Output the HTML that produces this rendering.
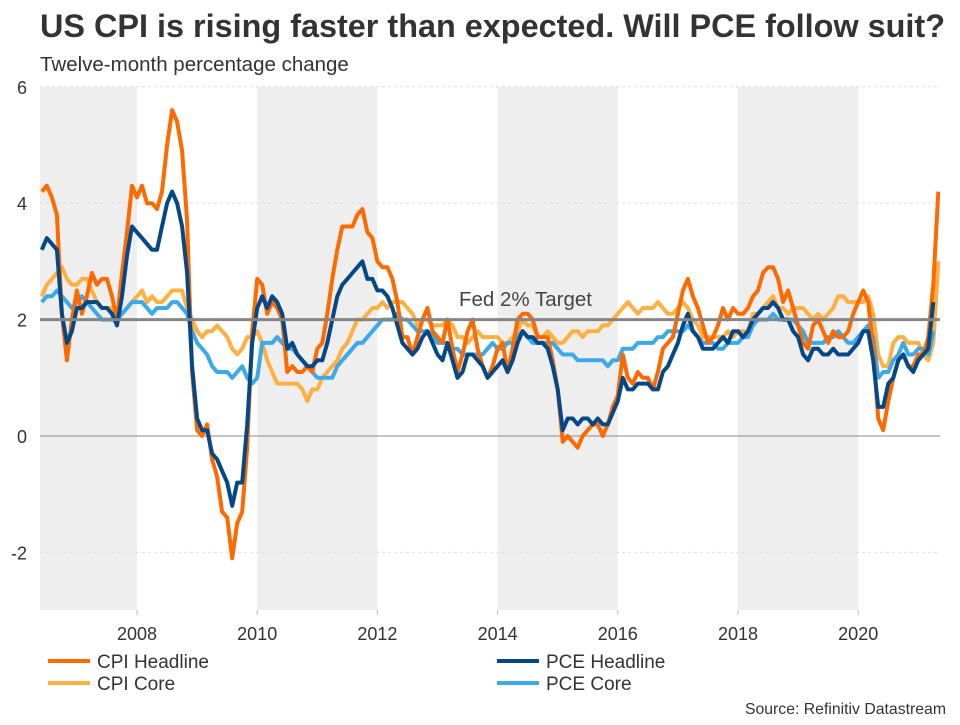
<!DOCTYPE html>
<html><head><meta charset="utf-8"><style>
body{margin:0;background:#fff;width:960px;height:720px;overflow:hidden;font-family:"Liberation Sans",sans-serif;}
</style></head><body>
<svg id="chart" width="960" height="720" xmlns="http://www.w3.org/2000/svg" font-family="Liberation Sans, sans-serif">
<text x="40" y="37" font-size="32.4" font-weight="bold" fill="#333">US CPI is rising faster than expected. Will PCE follow suit?</text>
<text x="40" y="71" font-size="20.5" fill="#333">Twelve-month percentage change</text>
<g id="bands"></g><g id="grid"></g><g id="series"></g><g id="axes"></g>
<text x="459" y="306" font-size="20.5" fill="#444">Fed 2% Target</text>
<g>
<line x1="48" y1="661" x2="90" y2="661" stroke="#ff6a00" stroke-width="4"/><text x="97" y="668" font-size="19" fill="#333">CPI Headline</text>
<line x1="48" y1="683" x2="90" y2="683" stroke="#ffb040" stroke-width="4"/><text x="97" y="690" font-size="19" fill="#333">CPI Core</text>
<line x1="497" y1="661" x2="539" y2="661" stroke="#054887" stroke-width="4"/><text x="546" y="668" font-size="19" fill="#333">PCE Headline</text>
<line x1="497" y1="683" x2="539" y2="683" stroke="#3ca9ea" stroke-width="4"/><text x="546" y="690" font-size="19" fill="#333">PCE Core</text>
</g>
<text x="946" y="714" font-size="15.8" fill="#333" text-anchor="end">Source: Refinitiv Datastream</text>
</svg>
<script>
const startYear = 2006, startMonth = 5;
const cpiHeadline = [4.2,4.3,4.1,3.8,2.1,1.3,2.0,2.5,
2.1,2.4,2.8,2.6,2.7,2.7,2.4,2.0,2.8,3.5,4.3,4.1,
4.3,4.0,4.0,3.9,4.2,5.0,5.6,5.4,4.9,3.7,1.1,0.1,
0.0,0.2,-0.4,-0.7,-1.3,-1.4,-2.1,-1.5,-1.3,-0.2,1.8,2.7,
2.6,2.1,2.3,2.2,2.0,1.1,1.2,1.1,1.1,1.2,1.1,1.5,
1.6,2.1,2.7,3.2,3.6,3.6,3.6,3.8,3.9,3.5,3.4,3.0,
2.9,2.9,2.7,2.3,1.7,1.7,1.4,1.7,2.0,2.2,1.8,1.7,
1.6,2.0,1.5,1.1,1.4,1.8,2.0,1.5,1.2,1.0,1.2,1.5,
1.6,1.1,1.5,2.0,2.1,2.1,2.0,1.7,1.7,1.7,1.3,0.8,
-0.1,0.0,-0.1,-0.2,0.0,0.1,0.2,0.2,0.0,0.2,0.5,0.7,
1.4,1.0,0.9,1.1,1.0,1.0,0.8,1.1,1.5,1.6,1.7,2.1,
2.5,2.7,2.4,2.2,1.9,1.6,1.7,1.9,2.2,2.0,2.2,2.1,
2.1,2.2,2.4,2.5,2.8,2.9,2.9,2.7,2.3,2.5,2.2,1.9,
1.6,1.5,1.9,2.0,1.8,1.6,1.8,1.7,1.7,1.8,2.1,2.3,
2.5,2.3,1.5,0.3,0.1,0.6,1.0,1.3,1.4,1.2,1.2,1.4,
1.4,1.7,2.6,4.2];
const cpiCore = [2.4,2.6,2.7,2.8,2.9,2.7,2.6,2.6,
2.7,2.7,2.5,2.3,2.2,2.2,2.2,2.1,2.1,2.2,2.3,2.4,
2.5,2.3,2.4,2.3,2.3,2.4,2.5,2.5,2.5,2.2,2.0,1.8,
1.7,1.8,1.8,1.9,1.8,1.7,1.5,1.4,1.5,1.7,1.7,1.8,
1.6,1.3,1.1,0.9,0.9,0.9,0.9,0.9,0.8,0.6,0.8,0.8,
1.0,1.1,1.2,1.3,1.5,1.6,1.8,2.0,2.0,2.1,2.2,2.2,
2.3,2.2,2.3,2.3,2.3,2.2,2.1,1.9,2.0,2.0,1.9,1.9,
1.9,2.0,1.9,1.7,1.7,1.6,1.7,1.8,1.7,1.7,1.7,1.7,
1.6,1.6,1.7,1.8,2.0,1.9,1.9,1.7,1.7,1.8,1.7,1.6,
1.6,1.7,1.8,1.8,1.7,1.8,1.8,1.8,1.9,1.9,2.0,2.1,
2.2,2.3,2.2,2.1,2.2,2.2,2.2,2.3,2.2,2.1,2.1,2.2,
2.3,2.2,2.0,1.9,1.7,1.7,1.7,1.7,1.7,1.8,1.7,1.8,
1.8,1.8,2.1,2.1,2.2,2.3,2.4,2.2,2.2,2.1,2.2,2.2,
2.2,2.1,2.0,2.1,2.0,2.1,2.2,2.4,2.4,2.3,2.3,2.3,
2.3,2.4,2.1,1.4,1.2,1.2,1.6,1.7,1.7,1.6,1.6,1.6,
1.4,1.3,1.6,3.0];
const pceHeadline = [3.2,3.4,3.3,3.2,2.1,1.6,1.8,2.2,
2.2,2.3,2.3,2.3,2.2,2.2,2.1,1.9,2.4,3.1,3.6,3.5,
3.4,3.3,3.2,3.2,3.6,4.0,4.2,4.0,3.6,2.8,1.2,0.3,
0.1,0.1,-0.3,-0.4,-0.6,-0.8,-1.2,-0.8,-0.8,0.2,1.6,2.2,
2.4,2.2,2.4,2.3,2.1,1.5,1.6,1.4,1.3,1.2,1.2,1.3,
1.3,1.6,2.0,2.4,2.6,2.7,2.8,2.9,3.0,2.7,2.7,2.5,
2.5,2.4,2.2,1.9,1.6,1.5,1.4,1.5,1.7,1.8,1.6,1.4,
1.3,1.6,1.3,1.0,1.1,1.4,1.4,1.3,1.2,1.0,1.1,1.2,
1.3,1.1,1.3,1.6,1.8,1.7,1.7,1.6,1.6,1.5,1.2,0.8,
0.1,0.3,0.3,0.2,0.3,0.3,0.2,0.3,0.2,0.2,0.4,0.6,
1.0,0.8,0.8,0.9,0.9,0.9,0.8,0.8,1.1,1.2,1.4,1.6,
1.9,2.1,1.8,1.7,1.5,1.5,1.5,1.6,1.7,1.6,1.8,1.8,
1.7,1.8,2.0,2.1,2.2,2.2,2.3,2.2,2.0,2.0,1.8,1.7,
1.4,1.3,1.5,1.5,1.4,1.4,1.5,1.4,1.4,1.4,1.5,1.6,
1.8,1.8,1.3,0.5,0.5,0.9,1.0,1.3,1.4,1.2,1.1,1.3,
1.4,1.5,2.3];
const pceCore = [2.3,2.4,2.4,2.5,2.4,2.3,2.2,2.3,
2.4,2.3,2.2,2.1,2.0,2.0,2.0,2.0,2.1,2.2,2.3,2.3,
2.3,2.2,2.1,2.2,2.2,2.2,2.3,2.3,2.2,2.1,1.8,1.6,
1.5,1.4,1.2,1.1,1.1,1.1,1.0,1.1,1.2,1.0,0.9,1.0,
1.6,1.6,1.6,1.7,1.6,1.5,1.5,1.4,1.3,1.2,1.1,1.0,
1.0,1.0,1.0,1.2,1.3,1.4,1.5,1.6,1.6,1.7,1.8,1.9,
2.0,2.0,2.0,2.1,2.0,2.0,1.9,1.8,1.8,1.8,1.7,1.6,
1.6,1.6,1.5,1.5,1.4,1.4,1.4,1.4,1.4,1.5,1.6,1.5,
1.5,1.6,1.6,1.7,1.8,1.7,1.6,1.6,1.6,1.6,1.6,1.5,
1.4,1.4,1.4,1.3,1.3,1.3,1.3,1.3,1.3,1.2,1.3,1.3,
1.5,1.5,1.5,1.6,1.6,1.6,1.6,1.7,1.7,1.8,1.8,1.8,
1.8,1.9,1.8,1.7,1.6,1.6,1.6,1.5,1.5,1.6,1.6,1.6,
1.7,1.7,1.9,2.0,2.0,2.0,2.1,2.0,2.0,2.0,2.0,1.9,
1.8,1.6,1.6,1.6,1.6,1.7,1.7,1.8,1.7,1.6,1.6,1.7,
1.8,1.9,1.7,1.0,1.1,1.1,1.3,1.4,1.6,1.4,1.4,1.5,
1.5,1.4,1.8];
const yTicks = [-2,0,2,4,6];
const xTicks = [2008,2010,2012,2014,2016,2018,2020];
const shadedBands = [[2006,2008],[2010,2012],[2014,2016],[2018,2020]];

const X0=40,X1=940,YT=87,YB=610;
const xOf = t => 137 + (t-2008)*60.1;
const yOf = v => 436 - v*58.2;
const NS='http://www.w3.org/2000/svg';
function mk(tag, attrs, parent){const e=document.createElementNS(NS,tag);for(const k in attrs)e.setAttribute(k,attrs[k]);parent.appendChild(e);return e;}
const bands=document.getElementById('bands'),grid=document.getElementById('grid'),ser=document.getElementById('series'),axes=document.getElementById('axes');
shadedBands.forEach(b=>{
  const a=Math.max(X0,xOf(b[0])),c=Math.min(X1,xOf(b[1]));
  const r=mk('rect',{x:a,y:YT,width:c-a,height:YB-YT,fill:'#eeeeee'},bands);
  
  
});
yTicks.forEach(v=>{
  const l=mk('line',{x1:X0,x2:X1,y1:yOf(v),y2:yOf(v),stroke:v===0?'#888':'#ddd','stroke-width':1,'stroke-dasharray':v===0?'':'3,3'},grid);
  
  
  const t=mk('text',{x:27,y:yOf(v)+7,'font-size':18,fill:'#333','text-anchor':'end'},axes);
  t.textContent=v;
  
  
});
xTicks.forEach(v=>{
  const t=mk('text',{x:xOf(v),y:640,'font-size':18,fill:'#333','text-anchor':'middle'},axes);
  t.textContent=v;
  
  
  const k=mk('line',{x1:xOf(v),x2:xOf(v),y1:YB,y2:YB+5,stroke:'#bbb'},axes);
  
  
});
function drawSeries(vals,color,name){
  const pts=vals.map((v,i)=>{const m=startMonth+i;const t=startYear+m/12;return xOf(t).toFixed(1)+','+yOf(v).toFixed(1);});
  const p=mk('polyline',{points:pts.join(' '),fill:'none',stroke:color,'stroke-width':4,'stroke-linejoin':'round'},ser);
  
  
}
drawSeries(cpiCore,'#ffb040','cpi-core-line');
drawSeries(pceCore,'#3ca9ea','pce-core-line');
drawSeries(cpiHeadline,'#ff6a00','cpi-headline-line');
drawSeries(pceHeadline,'#054887','pce-headline-line');
const tl=mk('line',{x1:X0,x2:X1,y1:yOf(2),y2:yOf(2),stroke:'#858585','stroke-width':3},ser);


</script>
</body></html>
